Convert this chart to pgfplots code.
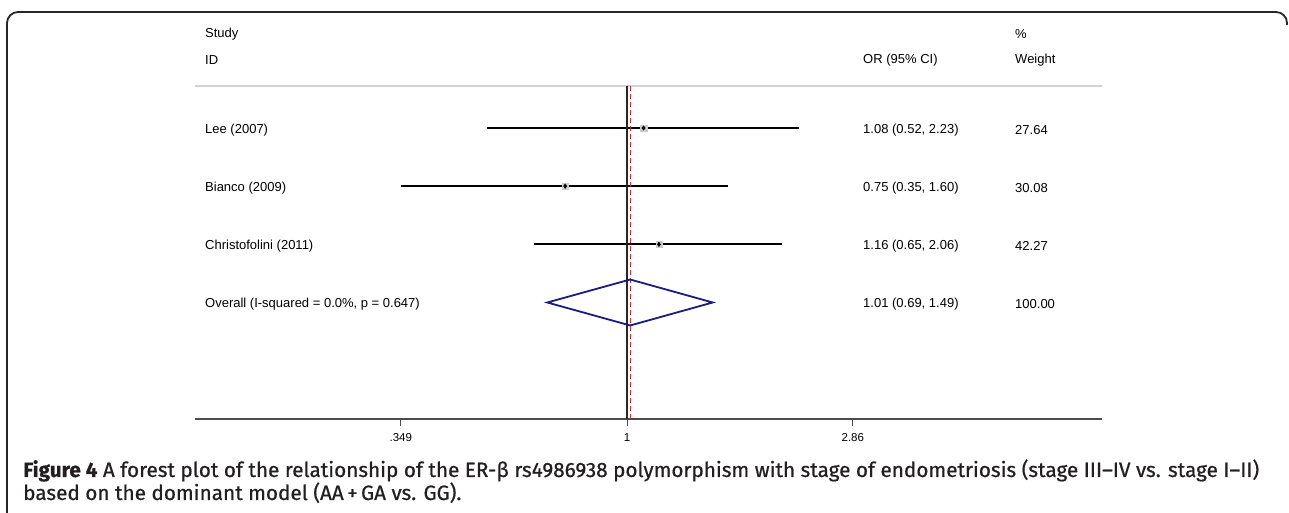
\documentclass[border=0pt]{standalone}
\usepackage{fontspec}
\setmainfont{Liberation Sans}
\newfontfamily\capfont[FakeBold=0.7]{Fira Sans}
\usepackage{pgfplots}
\pgfplotsset{compat=1.18}
\definecolor{navy}{RGB}{28,28,122}
\definecolor{dred}{RGB}{200,45,50}
\definecolor{capc}{RGB}{35,31,32}
\newcommand{\cf}{\fontsize{13}{15}\selectfont}
\newcommand{\capone}{\textbf{Figure 4} A forest plot of the relationship of the ER-β rs4986938 polymorphism with stage of endometriosis (stage III–IV vs. stage I–II)}
\newlength\capw
\begin{document}
\settowidth\capw{\capfont\fontsize{17}{20}\selectfont\capone}%
\begin{tikzpicture}[x=1pt,y=1pt]
\path[use as bounding box] (0,0) rectangle (1289,513);
\draw[line width=1.8pt, color=black!85, rounded corners=11pt] (7,-10) -- (7,501) -- (1287,501) -- (1287,488);
\begin{axis}[
  at={(195pt,94pt)}, anchor=south west,
  width=907pt, height=333pt, scale only axis,
  xmode=log, xmin=0.1339, xmax=9.12,
  ymin=0.278, ymax=6.003, y dir=reverse,
  axis y line=none, axis x line*=bottom,
  x axis line style={line width=1.6pt, color=black!70, -},
  xtick={0.349,1,2.86},
  xticklabels={\mbox{.349},\mbox{1},\mbox{2.86}},
  xminorticks=false,
  tick align=outside, major tick length=7pt,
  xtick style={line width=1pt, color=black!70},
  xticklabel style={font=\fontsize{11.5}{13}\selectfont, yshift=-4pt},
  /pgf/number format/assume math mode=true,
  clip=false,
]
\addplot[gray!35, line width=1.5pt] coordinates {(0.1339,0.278) (9.12,0.278)};
\addplot[black, line width=1.8pt] coordinates {(0.52,1) (2.23,1)};
\addplot[black, line width=1.8pt] coordinates {(0.35,2) (1.60,2)};
\addplot[black, line width=1.8pt] coordinates {(0.65,3) (2.06,3)};
\addplot[black!85, line width=1.3pt] coordinates {(1,0.278) (1,6.003)};
\addplot[draw=dred, line width=1.2pt, dash pattern=on 5pt off 3pt] coordinates {(1.0149,0.278) (1.0149,6.003)};
\addplot[only marks, mark=square*, mark size=3.2pt, mark options={fill=gray!40, draw=gray!40}] coordinates {(1.08,1) (0.75,2) (1.16,3)};
\addplot[only marks, mark=diamond*, mark size=2.2pt, mark options={fill=black, draw=black}] coordinates {(1.08,1) (0.75,2) (1.16,3)};
\addplot[navy, line width=1.8pt] coordinates {(0.69,4) (1.0149,3.605) (1.49,4) (1.0149,4.395) (0.69,4)} -- cycle;
\end{axis}
\begin{scope}[every node/.style={font=\cf, inner sep=0pt, anchor=west}]
\node at (205,479) {Study};
\node at (205,453) {ID};
\node at (863,453) {OR (95\% CI)};
\node at (1015,479) {\%};
\node at (1015,453) {Weight};
\node at (205,383) {Lee (2007)};
\node at (205,325) {Bianco (2009)};
\node at (205,267) {Christofolini (2011)};
\node at (205,208.5) {Overall (I-squared = 0.0\%, p = 0.647)};
\node at (863,383) {1.08 (0.52, 2.23)};
\node at (863,325) {0.75 (0.35, 1.60)};
\node at (863,267) {1.16 (0.65, 2.06)};
\node at (863,208.5) {1.01 (0.69, 1.49)};
\node at (1015,383) {27.64};
\node at (1015,325) {30.08};
\node at (1015,267) {42.27};
\node at (1015,208.5) {100.00};
\end{scope}
\pgfmathsetmacro\cs{1236/\capw}
\node[anchor=base west, inner sep=0pt, scale=\cs, text=capc, font=\capfont\fontsize{17}{20}\selectfont] at (23,36) {\capone};
\node[anchor=base west, inner sep=0pt, scale=\cs, text=capc, font=\capfont\fontsize{17}{20}\selectfont] at (23,13) {based on the dominant model (AA\,+\,GA vs. GG).};
\end{tikzpicture}
\end{document}
